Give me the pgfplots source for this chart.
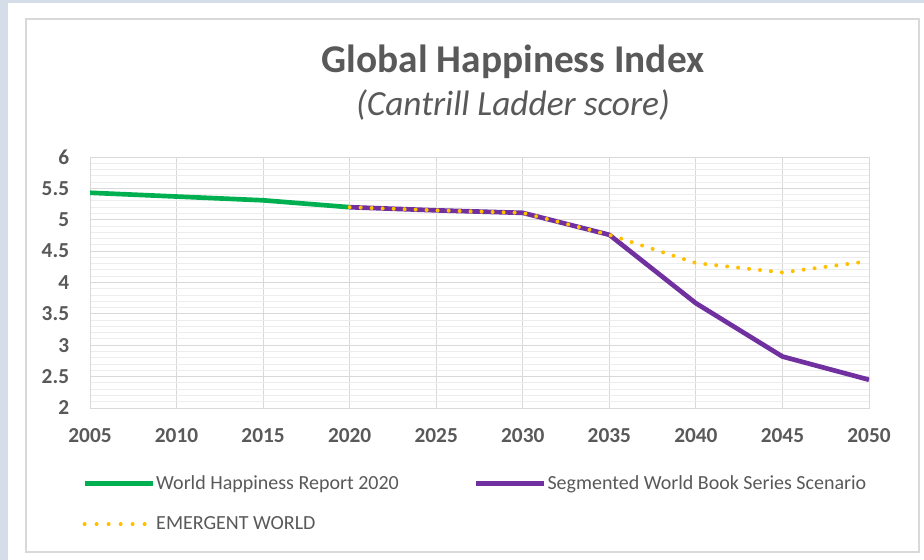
\documentclass[border=0pt]{standalone}
\usepackage{fontspec}
\setmainfont{Carlito}
\usepackage{pgfplots}
\pgfplotsset{compat=1.18}

\definecolor{txtgrey}{HTML}{595959}
\definecolor{gridgrey}{HTML}{D9D9D9}
\definecolor{minorgrey}{HTML}{EDEDED}
\definecolor{whrgreen}{HTML}{00B050}
\definecolor{segpurple}{HTML}{7030A0}
\definecolor{emyellow}{HTML}{FFC000}
\definecolor{frameblue}{HTML}{D5DEE8}

\pgfplotsset{
  longline legend/.style={legend image code/.code={\draw[##1, line cap=butt] (0pt,0pt) -- (51pt,0pt);}},
  dot legend/.style={legend image code/.code={\draw[##1, dash pattern=on 0pt off 9pt] (0pt,0pt) -- (47pt,0pt);}},
}

\begin{document}
\begin{tikzpicture}
% canvas: 1px = 0.75pt, axis lower left at pixel (90,408)
\fill[white] (-67.5pt,-114pt) rectangle (625.5pt,306pt);
\fill[frameblue] (-67.5pt,-114pt) rectangle (-61.5pt,306pt);
\fill[frameblue] (-67.5pt,303.75pt) rectangle (625.5pt,306pt);
\draw[gridgrey, line width=1.5pt] (-48pt,-108pt) rectangle (621.75pt,291.75pt);

\begin{axis}[
    at={(0,0)}, anchor=south west,
    scale only axis,
    width=584.25pt, height=188.25pt,
    xmin=2005, xmax=2050,
    ymin=2, ymax=6,
    enlargelimits=false,
    xtick={2005,2010,...,2050},
    ytick={2,2.5,...,6},
    minor y tick num=4,
    xmajorgrids, ymajorgrids, yminorgrids,
    major grid style={gridgrey, line width=0.75pt},
    minor grid style={minorgrey, line width=0.75pt},
    axis line style={gridgrey, line width=0.75pt},
    tick style={draw=none},
    /pgf/number format/assume math mode=true,
    xticklabel style={font=\fontsize{16}{18}\selectfont\bfseries, text=txtgrey,
        /pgf/number format/1000 sep={}, inner sep=0pt, anchor=base, yshift=-25.7pt},
    yticklabel style={font=\fontsize{16}{18}\selectfont\bfseries, text=txtgrey,
        inner sep=0pt, anchor=east, xshift=-15.5pt},
    legend columns=2,
    legend cell align=left,
    legend style={at={(-0.0103,-0.262)}, anchor=north west, draw=none, fill=none,
        inner sep=0pt, row sep=17pt,
        font=\fontsize{15}{17}\selectfont, text=txtgrey,
        nodes={inner sep=1pt}},
    /tikz/every even column/.append style={column sep=55pt},
]

\addplot[whrgreen, line width=3.5pt, line join=round, longline legend]
    coordinates {(2005,5.43)(2010,5.37)(2015,5.31)(2020,5.20)};
\addlegendentry{World Happiness Report 2020}

\addplot[segpurple, line width=3.5pt, line join=round, longline legend]
    coordinates {(2020,5.20)(2025,5.15)(2030,5.11)(2035,4.76)(2040,3.67)(2045,2.82)(2050,2.45)};
\addlegendentry{Segmented World Book Series Scenario}

\addplot[emyellow, line width=3pt, line cap=round, dash pattern=on 0pt off 8.25pt, dot legend]
    coordinates {(2020,5.20)(2025,5.15)(2030,5.11)(2035,4.76)(2040,4.31)(2045,4.16)(2050,4.34)};
\addlegendentry{EMERGENT WORLD}

\end{axis}

\node[text=txtgrey, font=\fontsize{29.5}{33}\selectfont\bfseries, anchor=base]
    at (317.25pt,251.25pt) {Global Happiness Index};
\node[text=txtgrey, font=\fontsize{26.5}{30}\selectfont\itshape, anchor=base]
    at (317.25pt,219pt) {(Cantrill Ladder score)};
\end{tikzpicture}
\end{document}
